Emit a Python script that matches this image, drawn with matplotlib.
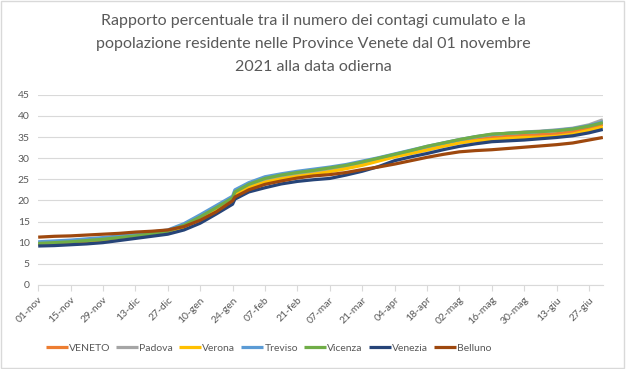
import pandas as pd
import matplotlib.pyplot as plt
from matplotlib.patches import Rectangle

# Dates (weekly readings, plus the step on 25-gen and the last day)
dates = ['2021-11-01', '2021-11-08', '2021-11-15', '2021-11-22', '2021-11-29', '2021-12-06',
         '2021-12-13', '2021-12-20', '2021-12-27', '2022-01-03', '2022-01-10', '2022-01-17',
         '2022-01-24', '2022-01-25', '2022-01-31', '2022-02-07', '2022-02-14', '2022-02-21',
         '2022-02-28', '2022-03-07', '2022-03-14', '2022-03-21', '2022-03-28', '2022-04-04',
         '2022-04-11', '2022-04-18', '2022-04-25', '2022-05-02', '2022-05-09', '2022-05-16',
         '2022-05-23', '2022-05-30', '2022-06-06', '2022-06-13', '2022-06-20', '2022-06-27',
         '2022-07-03']

veneto = [9.8, 10.0, 10.2, 10.5, 10.8, 11.2, 11.6, 12.1, 12.6, 14.0, 15.9, 18.1, 20.3, 21.6, 23.3,
          24.6, 25.4, 26.0, 26.5, 27.1, 27.8, 28.6, 29.5, 30.5, 31.4, 32.3, 33.1, 33.9, 34.5, 34.9,
          35.2, 35.4, 35.6, 35.8, 36.3, 37.1, 38.0]
padova = [9.9, 10.1, 10.3, 10.6, 10.9, 11.3, 11.7, 12.2, 12.7, 14.2, 16.2, 18.4, 20.6, 22.0, 23.6,
          24.9, 25.7, 26.3, 26.8, 27.4, 28.1, 28.9, 29.8, 30.7, 31.6, 32.6, 33.5, 34.3, 35.0, 35.6,
          35.9, 36.2, 36.4, 36.7, 37.1, 37.9, 39.1]
verona = [9.6, 9.8, 10.0, 10.2, 10.5, 10.9, 11.3, 11.8, 12.3, 13.7, 15.7, 17.8, 20.0, 21.3, 23.0,
          24.3, 25.1, 25.7, 26.2, 26.8, 27.5, 28.3, 29.3, 30.3, 31.1, 31.9, 32.8, 33.6, 34.1, 34.4,
          34.7, 34.9, 35.0, 35.2, 35.7, 36.6, 37.4]
treviso = [10.2, 10.4, 10.6, 10.9, 11.2, 11.6, 12.0, 12.5, 13.0, 14.5, 16.6, 18.8, 21.0, 22.5, 24.2,
           25.6, 26.3, 26.9, 27.4, 27.9, 28.5, 29.3, 30.1, 31.0, 31.9, 32.8, 33.6, 34.4, 35.1, 35.6,
           35.9, 36.1, 36.3, 36.6, 37.0, 37.7, 38.6]
vicenza = [9.8, 10.0, 10.2, 10.5, 10.8, 11.2, 11.6, 12.1, 12.7, 14.1, 16.1, 18.3, 20.6, 22.0, 23.8,
           25.2, 26.0, 26.6, 27.1, 27.7, 28.3, 29.1, 30.0, 30.9, 31.8, 32.8, 33.6, 34.4, 35.1, 35.7,
           35.9, 36.1, 36.3, 36.5, 36.9, 37.6, 38.4]
venezia = [9.2, 9.3, 9.5, 9.7, 10.0, 10.5, 11.0, 11.5, 12.0, 13.0, 14.6, 16.8, 19.1, 20.3, 22.0,
           23.0, 23.9, 24.5, 24.9, 25.2, 26.0, 26.9, 28.0, 29.4, 30.3, 31.1, 32.0, 32.8, 33.4, 33.9,
           34.1, 34.3, 34.6, 34.9, 35.3, 36.0, 36.8]
belluno = [11.3, 11.5, 11.6, 11.8, 12.0, 12.2, 12.5, 12.7, 13.0, 13.8, 15.3, 17.3, 19.9, 20.8, 22.5,
           23.8, 24.6, 25.3, 25.8, 26.1, 26.6, 27.3, 27.9, 28.6, 29.4, 30.2, 30.9, 31.5, 31.8, 32.0,
           32.3, 32.6, 32.9, 33.2, 33.6, 34.3, 34.9]

names = ['VENETO', 'Padova', 'Verona', 'Treviso', 'Vicenza', 'Venezia', 'Belluno']
series = [veneto, padova, verona, treviso, vicenza, venezia, belluno]
colors = ['#ED7D31', '#A5A5A5', '#FFC000', '#5B9BD5', '#70AD47', '#264478', '#9E480E']
mesi = {11: 'nov', 12: 'dic', 1: 'gen', 2: 'feb', 3: 'mar', 4: 'apr', 5: 'mag', 6: 'giu'}

plt.rcParams['font.family'] = ['Lato', 'DejaVu Sans']
x = pd.to_datetime(dates)

fig = plt.figure(figsize=(6.26, 3.69), dpi=100)
ax = fig.add_axes([0.061, 0.228, 0.902, 0.515])

for name, vals, c in zip(names, series, colors):
    ax.plot(x, vals, color=c, lw=2.3, label=name, solid_capstyle='butt')

# Axes
ax.set_ylim(0, 45)
ax.set_yticks(range(0, 46, 5))
ax.set_xlim(x[0], x[-1])
ticks = pd.date_range('2021-11-01', '2022-06-27', freq='14D')
ax.set_xticks(ticks)
ax.set_xticklabels([f'{t.day:02d}-{mesi[t.month]}' for t in ticks], rotation=45,
                   ha='right', rotation_mode='anchor')
ax.tick_params(axis='x', colors='#D9D9D9', labelcolor='#595959', labelsize=7.5, length=4)
ax.tick_params(axis='y', length=0, labelcolor='#595959', labelsize=7.5, pad=6)
ax.grid(axis='y', color='#D9D9D9', lw=0.8)
ax.set_axisbelow(True)
for s in ['top', 'right', 'left']:
    ax.spines[s].set_visible(False)
ax.spines['bottom'].set_color('#D9D9D9')

# Title
fig.text(0.5, 0.962, 'Rapporto percentuale tra il numero dei contagi cumulato e la\n'
         'popolazione residente nelle Province Venete dal 01 novembre\n2021 alla data odierna',
         ha='center', va='top', fontsize=11.5, color='#595959', linespacing=1.8)

# Legend
fig.legend(loc='center left', bbox_to_anchor=(0.058, 0.057), ncol=7, frameon=False, fontsize=7.5,
           handlelength=2.1, handletextpad=0.1, columnspacing=0.6, labelcolor='#595959')

# Chart border
fig.patches.append(Rectangle((0.002, 0.003), 0.995, 0.994, transform=fig.transFigure,
                             fill=False, edgecolor='#D9D9D9', lw=1))

fig.savefig('out.png', dpi=100)
